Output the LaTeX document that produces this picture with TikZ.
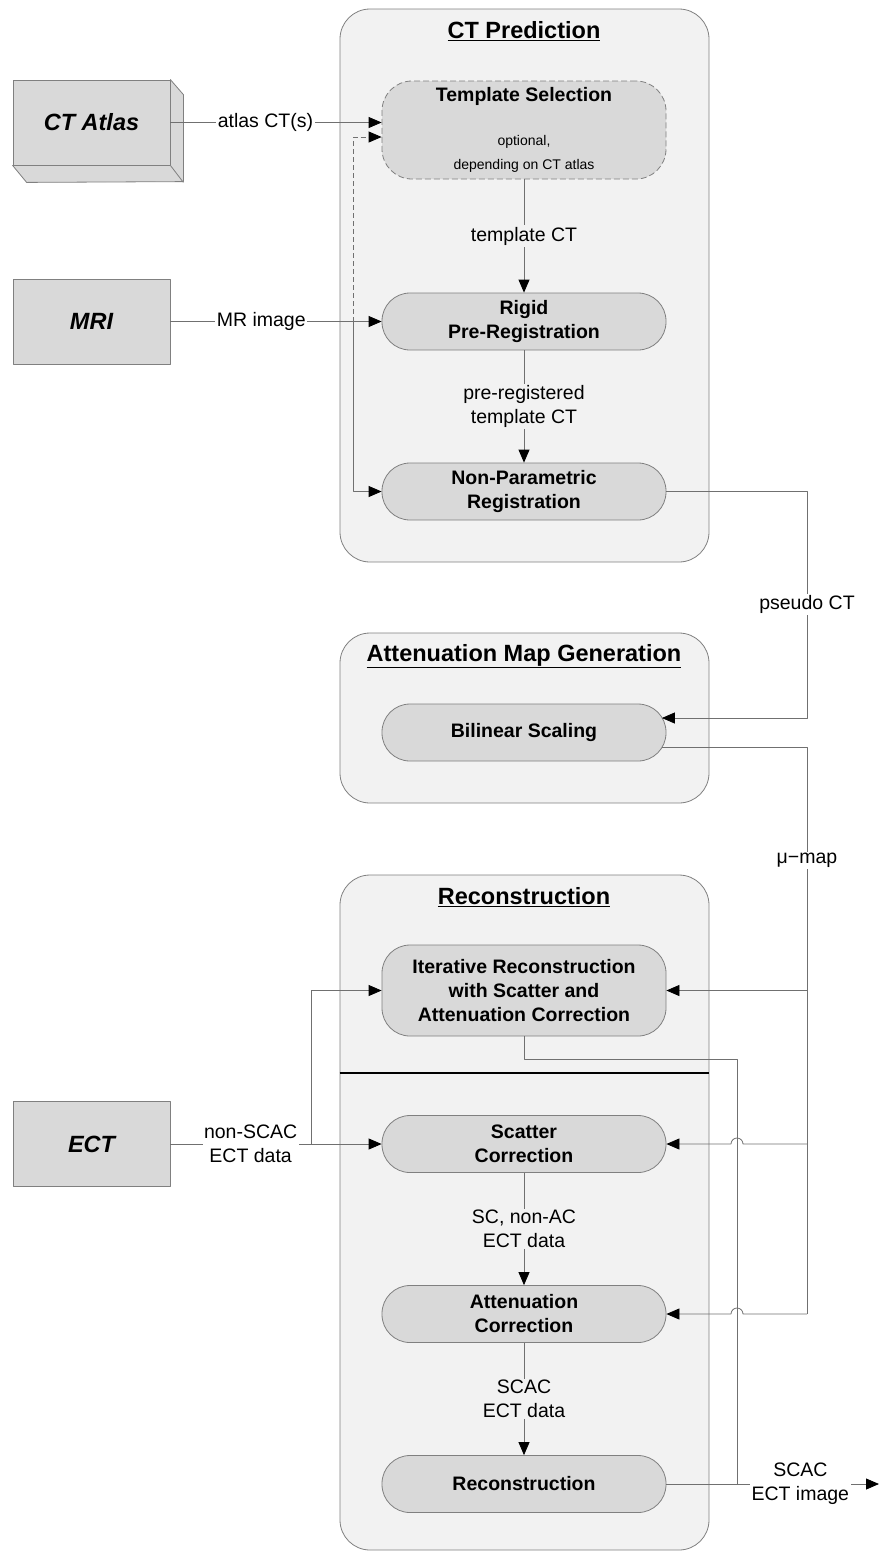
\documentclass[tikz,border=0pt]{standalone}
\usepackage{fontspec}
\setmainfont{Liberation Sans}
\usetikzlibrary{arrows.meta,calc}
\definecolor{panelgray}{HTML}{F2F2F2}
\definecolor{boxgray}{HTML}{D9D9D9}
\definecolor{edgegray}{HTML}{808080}
\definecolor{wiregray}{HTML}{707070}
\newcommand{\bigfont}{\fontsize{23.5}{28}\selectfont}
\newcommand{\midfont}{\fontsize{19.5}{24}\selectfont}
\newcommand{\smallfont}{\fontsize{14}{23}\selectfont}
\begin{document}
\begin{tikzpicture}[x=1pt,y=-1pt,line join=round,
    wire/.style={draw=wiregray,line width=.8pt},
    arr/.style={wire,-{Triangle[length=13pt,width=11pt,color=black]}},
    panel/.style={draw=edgegray,fill=panelgray,line width=.8pt,rounded corners=30pt,minimum width=369pt,inner sep=0pt},
    stage/.style={draw=edgegray,fill=boxgray,line width=.8pt,rounded corners=28pt,minimum width=284pt,minimum height=57pt,align=center,font=\midfont\bfseries},
    source/.style={draw=edgegray,fill=boxgray,line width=.8pt,minimum width=157pt,minimum height=85pt,font=\bigfont\bfseries\itshape},
    lbl/.style={fill=white,inner sep=1.5pt,align=center,font=\midfont},
    inlbl/.style={lbl,fill=panelgray},
    title/.style={font=\bigfont\bfseries}]
\useasboundingbox (0,0) rectangle (879,1551);
% panels
\node[panel,minimum height=553pt] (ctpanel) at (524.5,285.5) {};
\node[panel,minimum height=170pt] (attpanel) at (524.5,718) {};
\node[panel,minimum height=675pt] (recpanel) at (524.5,1212.5) {};
\foreach \n/\y/\t in {cttitle/31/CT Prediction,atttitle/656/Attenuation Map Generation,rectitle/897/Reconstruction}
  \node[title] (\n) at (524,\y) {\underline{\t}};
\coordinate (div) at (0,1073);
\draw[line width=1.6pt] (recpanel.west |- div) -- (recpanel.east |- div);
% sources
\node[source] (atlas) at (91.5,122.5) {CT Atlas};
\draw[edgegray,fill=boxgray,line width=.8pt] (atlas.north east) -- ++(13,15) -- ++(0,87) -- ($(atlas.south west)+(14,17)$) -- (atlas.south west) -- (atlas.south east) -- cycle;
\draw[edgegray,line width=.8pt] (atlas.south east) -- ++(13,17);
\node[source] (mri) at (91.5,321.5) {MRI};
\node[source] (ect) at (91.5,1144) {ECT};
% stages
\node[stage,dash pattern=on 6pt off 3pt,rounded corners=30pt,minimum height=98pt] (tsel) at (524,130) {Template Selection\\[20pt]\smallfont\mdseries optional,\\\smallfont\mdseries depending on CT atlas};
\foreach \n/\y/\t in {rigid/321.5/Rigid\\Pre-Registration,npr/491.5/Non-Parametric\\Registration,bilin/732.5/Bilinear Scaling,scatter/1144/Scatter\\Correction,attcor/1314/Attenuation\\Correction,recon/1484/Reconstruction}
  \node[stage] (\n) at (524,\y) {\t};
\node[stage,minimum height=91pt] (ir) at (524,990.5) {Iterative Reconstruction\\with Scatter and\\Attenuation Correction};
% CT prediction
\draw[arr] (atlas.east) -- node[lbl,pos=.45]{atlas CT(s)} (tsel.west |- atlas.east);
\draw[arr] (mri) -- node[lbl,pos=.43]{MR image} (rigid);
\coordinate (mrisplit) at (353,321.5);
\draw[arr,dash pattern=on 5pt off 3pt] (mrisplit) |- ($(tsel.west)+(0,7)$);
\draw[arr] (mrisplit) |- (npr.west);
\draw[arr] (tsel) -- node[inlbl]{template CT} (rigid);
\draw[arr] (rigid) -- node[inlbl]{pre-registered\\template CT} (npr);
\coordinate (pct) at (807,718);
\draw[arr] (npr.east) -| node[lbl,pos=.75]{pseudo CT} (pct) -- ($(bilin.east)+(-4.5,-14.5)$);
% mu-map
\coordinate (mu) at (807,1314);
\coordinate (merge) at (737,1484);
\draw[wire] ($(bilin.east)+(-4.5,14.5)$) -| node[lbl,pos=.6]{μ−map} (mu);
\draw[arr] (mu |- ir.east) -- (ir.east);
\foreach \n in {scatter,attcor}
  \draw[arr] (mu |- \n.east) -- ($(merge |- \n.east)+(6,0)$) arc (0:180:6pt) -- (\n.east);
% reconstruction
\coordinate (ectsplit) at (311,1144);
\draw[arr] (ect) -- node[lbl,pos=.38]{non-SCAC\\ECT data} (scatter);
\draw[arr] (ectsplit) |- (ir.west);
\draw[arr] (scatter) -- node[inlbl]{SC, non-AC\\ECT data} (attcor);
\draw[arr] (attcor) -- node[inlbl]{SCAC\\ECT data} (recon);
\draw[wire] (ir.south) -- ++(0,23) -| (merge);
\coordinate (out) at (879,1484);
\draw[arr] (recon.east) -- node[lbl,pos=.63]{SCAC\\ECT image} (out);
\end{tikzpicture}
\end{document}
